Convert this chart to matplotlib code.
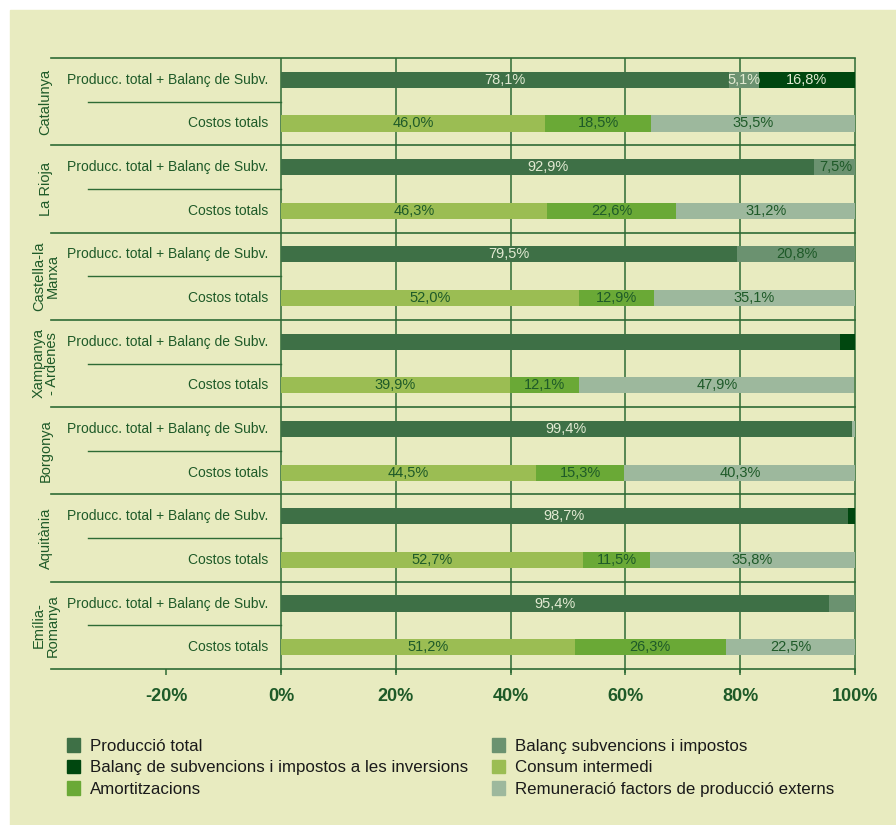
import matplotlib.pyplot as plt
import matplotlib.patches as mpatches
import numpy as np

plt.rcParams['font.family'] = ['Liberation Sans', 'DejaVu Sans']

regions = ['Catalunya', 'La Rioja', 'Castella-la\nManxa', 'Xampanya\n- Ardenes',
           'Borgonya', 'Aquitània', 'Emília-\nRomanya']
row_names = ['Producc. total + Balanç de Subv.', 'Costos totals']

# barra de producció
prod_total = [78.1, 92.9, 79.5, 97.4, 99.4, 98.7, 95.4]
balanc_subv = [5.1, 7.5, 20.8, 0.0, 0.0, 0.0, 4.6]
balanc_inv = [16.8, 0.0, 0.0, 2.6, 0.0, 1.3, 0.0]
prod_altres = [0.0, 0.0, 0.0, 0.0, 0.6, 0.0, 0.0]
prod_shown = [True, True, True, False, True, True, True]
subv_shown = [True, True, True, False, False, False, False]
inv_shown = [True, False, False, False, False, False, False]

# barra de costos
consum = [46.0, 46.3, 52.0, 39.9, 44.5, 52.7, 51.2]
amort = [18.5, 22.6, 12.9, 12.1, 15.3, 11.5, 26.3]
remun = [35.5, 31.2, 35.1, 47.9, 40.3, 35.8, 22.5]

legend_names = ['Producció total', 'Balanç de subvencions i impostos a les inversions',
                'Amortitzacions', 'Balanç subvencions i impostos', 'Consum intermedi',
                'Remuneració factors de producció externs']

c_prod = '#3e7046'
c_inv = '#00470f'
c_amort = '#6aa936'
c_subv = '#6b9270'
c_consum = '#9bbd53'
c_remun = '#9db89d'
bg = '#e8ebc0'
line_c = '#2e6b35'
txt_c = '#1e5a28'
light_txt = '#e2ead2'

fig = plt.figure(figsize=(8.96, 8.25), dpi=100)
fig.patches.append(mpatches.Rectangle((10 / 896, 0), 1, 1 - 10 / 825, transform=fig.transFigure,
                                      color=bg, zorder=-10))
ax = fig.add_axes([51.4 / 896, 1 - 669 / 825, 803.6 / 896, 611 / 825])
ax.set_facecolor('none')
ax.set_xlim(-40, 100)
ax.set_ylim(14, 0)
h = 0.37


def pct(v):
    return f'{v:.1f}'.replace('.', ',') + '%'


def seg(y, left, w, color, show, tcolor):
    if w <= 0:
        return
    ax.barh(y, w, left=left, height=h, color=color, zorder=3)
    if show:
        ax.text(left + w / 2, y, pct(w), ha='center', va='center', fontsize=10.5,
                color=tcolor, zorder=4)


for g in range(len(regions)):
    yp = 2 * g + 0.5
    yc = 2 * g + 1.5
    left = 0
    seg(yp, left, prod_total[g], c_prod, prod_shown[g], light_txt)
    left += prod_total[g]
    seg(yp, left, balanc_subv[g], c_subv, subv_shown[g], light_txt if balanc_subv[g] < 6 else txt_c)
    left += balanc_subv[g]
    seg(yp, left, prod_altres[g], c_remun, False, txt_c)
    left += prod_altres[g]
    seg(yp, left, balanc_inv[g], c_inv, inv_shown[g], light_txt)

    left = 0
    seg(yc, left, consum[g], c_consum, True, txt_c)
    left += consum[g]
    seg(yc, left, amort[g], c_amort, True, txt_c)
    left += amort[g]
    seg(yc, left, remun[g], c_remun, True, txt_c)

    ax.text(-2.3, yp, row_names[0], ha='right', va='center', fontsize=10, color=txt_c)
    ax.text(-2.3, yc, row_names[1], ha='right', va='center', fontsize=10, color=txt_c)
    ax.text(-41.0, 2 * g + 1, regions[g], rotation=90, ha='center', va='center',
            fontsize=10.5, color=txt_c, linespacing=0.95, clip_on=False)

    ax.plot([-40, 100], [2 * g, 2 * g], color=line_c, lw=1.2, zorder=2, clip_on=False)
    ax.plot([-33.6, 0], [2 * g + 1, 2 * g + 1], color=line_c, lw=1.0, zorder=2)

ax.vlines([0, 20, 40, 60, 80, 100], 0, 14.1, color=line_c, lw=1.1, zorder=1, clip_on=False)

for s in ['top', 'left', 'right']:
    ax.spines[s].set_visible(False)
ax.spines['bottom'].set_color(line_c)
ax.spines['bottom'].set_linewidth(1.2)
ax.set_yticks([])
ax.set_xticks([-20, 0, 20, 40, 60, 80, 100])
ax.set_xticklabels(['-20%', '0%', '20%', '40%', '60%', '80%', '100%'],
                   fontweight='bold', fontsize=13, color=txt_c)
ax.tick_params(axis='x', length=4, color=line_c, width=1.1, pad=10)

colors = [c_prod, c_inv, c_amort, c_subv, c_consum, c_remun]
handles = [mpatches.Patch(color=c) for c in colors]
fig.legend(handles, legend_names, ncol=2, loc='upper left', bbox_to_anchor=(52 / 896, 1 - 723 / 825),
           frameon=False, fontsize=12.2, handlelength=0.75, handleheight=0.85, handletextpad=0.6,
           columnspacing=1.4, labelspacing=0.35, labelcolor='#1a1a1a')

fig.savefig('out.png', dpi=100, facecolor='white')
